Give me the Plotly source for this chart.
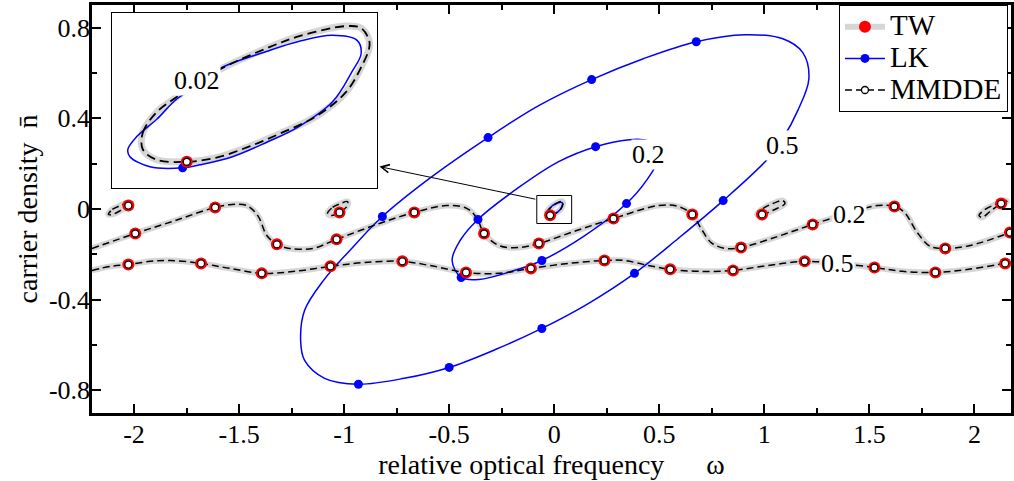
import plotly.graph_objects as go

# ---------------- data (omega, carrier density) ----------------
# MMDDE / TW branch at 0.2 (wavy upper curve)
W_MM02 = [-2.2, -1.994, -1.804, -1.614, -1.534, -1.463, -1.411, -1.368, -1.320, -1.259,
          -1.150, -1.036, -0.832, -0.666, -0.514, -0.415, -0.367, -0.334, -0.263, -0.168,
          -0.073, 0.107, 0.282, 0.495, 0.590, 0.657, 0.699, 0.747, 0.813, 0.889,
          1.064, 1.230, 1.396, 1.539, 1.619, 1.667, 1.728, 1.790, 1.861, 1.980, 2.169]
N_MM02 = [-0.174, -0.108, -0.051, 0.007, 0.020, 0.015, -0.029, -0.117, -0.156, -0.174,
          -0.174, -0.134, -0.064, -0.015, 0.015, 0.002, -0.042, -0.108, -0.161, -0.170,
          -0.152, -0.095, -0.042, 0.015, 0.011, -0.024, -0.086, -0.148, -0.174, -0.170,
          -0.121, -0.068, -0.020, 0.015, 0.011, -0.015, -0.104, -0.165, -0.174, -0.161, -0.104]
S_MM02 = [1, 3, 8, 11, 13, 17, 20, 22, 25, 29, 31, 34, 38, 40]

# MMDDE / TW branch at 0.5 (wavy lower curve)
W_MM05 = [-2.2, -2.112, -2.027, -1.923, -1.828, -1.681, -1.544, -1.392, -1.235, -1.065,
          -0.903, -0.723, -0.571, -0.420, -0.263, -0.111, 0.069, 0.239, 0.330, 0.448,
          0.552, 0.685, 0.851, 1.017, 1.192, 1.349, 1.524, 1.657, 1.814, 1.965, 2.146, 2.174]
N_MM05 = [-0.271, -0.253, -0.245, -0.231, -0.227, -0.240, -0.262, -0.284, -0.275, -0.253,
          -0.236, -0.231, -0.253, -0.280, -0.284, -0.262, -0.240, -0.227, -0.227, -0.249,
          -0.266, -0.275, -0.271, -0.249, -0.231, -0.240, -0.258, -0.275, -0.280, -0.267, -0.240, -0.236]
S_MM05 = [2, 5, 7, 9, 11, 13, 15, 17, 20, 22, 24, 26, 28, 30]

# small closed MMDDE / TW loops near n = 0
W_LOOP1 = [-2.122, -2.103, -2.065, -2.027, -2.013, -2.027, -2.065, -2.103, -2.122]
N_LOOP1 = [-0.024, -0.002, 0.015, 0.029, 0.024, 0.015, -0.007, -0.024, -0.024]
S_LOOP1 = [5]
W_LOOP2 = [-1.079, -1.055, -1.017, -0.984, -0.984, -1.022, -1.060, -1.079]
N_LOOP2 = [-0.020, 0.007, 0.024, 0.033, 0.015, -0.015, -0.029, -0.020]
S_LOOP2 = [5]
W_LOOP3 = [0.965, 0.993, 1.041, 1.088, 1.098, 1.050, 0.989, 0.965]
N_LOOP3 = [-0.024, 0.002, 0.024, 0.037, 0.024, -0.002, -0.024, -0.024]
S_LOOP3 = [6]
W_LOOP4 = [2.022, 2.051, 2.098, 2.141, 2.155, 2.127, 2.074, 2.037, 2.022]
N_LOOP4 = [-0.029, -0.002, 0.020, 0.037, 0.033, 0.024, -0.011, -0.037, -0.029]
S_LOOP4 = [5]

# MMDDE / TW loop at 0.02 (centre, enlarged in the inset)
W_MM002 = [-0.0345, -0.0345, -0.0298, -0.0230, -0.0152, -0.0051, 0.0074, 0.0186, 0.0345, 0.0396,
           0.0423, 0.0423, 0.0399, 0.0345, 0.0244, 0.0129, 0.0017, -0.0095, -0.0196, -0.0298, -0.0345]
N_MM002 = [-0.0224, -0.0146, -0.0053, 0.0016, 0.0090, 0.0164, 0.0238, 0.0294, 0.0340, 0.0331,
           0.0275, 0.0238, 0.0160, 0.0039, -0.0072, -0.0146, -0.0210, -0.0261, -0.0280, -0.0271, -0.0224]
S_MM002 = [18]

# LK orbits
W_LK05 = [0.804, 0.590, 0.382, 0.164, -0.059, -0.277, -0.500, -0.714, -0.932, -1.093,
          -1.188, -1.207, -1.188, -1.098, -0.974, -0.818, -0.595, -0.315, -0.074, 0.178,
          0.424, 0.676, 0.908, 1.088, 1.183, 1.212, 1.159, 1.088, 1.017, 0.804]
N_LK05 = [0.037, -0.130, -0.284, -0.416, -0.527, -0.619, -0.699, -0.747, -0.773, -0.747,
          -0.668, -0.580, -0.447, -0.315, -0.184, -0.033, 0.134, 0.315, 0.456, 0.571,
          0.663, 0.738, 0.769, 0.751, 0.690, 0.575, 0.434, 0.311, 0.222, 0.037]
S_LK05 = [0, 2, 4, 6, 8, 15, 17, 19, 21]

W_LK02 = [0.344, 0.439, 0.495, 0.472, 0.424, 0.358, 0.197, 0.021, -0.169, -0.363,
          -0.448, -0.486, -0.443, -0.358, -0.202, -0.059, 0.140, 0.344]
N_LK02 = [0.024, 0.126, 0.223, 0.289, 0.306, 0.306, 0.275, 0.209, 0.095, -0.046,
          -0.139, -0.227, -0.302, -0.311, -0.275, -0.227, -0.121, 0.024]
S_LK02 = [0, 6, 9, 12, 15]

W_LK002 = [0.0365, 0.0298, 0.0186, 0.0074, -0.0041, -0.0152, -0.0210, -0.0321, -0.0389, -0.0396,
           -0.0365, -0.0298, -0.0230, -0.0152, -0.0085, 0.0074, 0.0186, 0.0298, 0.0382, 0.0396, 0.0365]
N_LK002 = [0.0132, -0.0007, -0.0118, -0.0192, -0.0257, -0.0294, -0.0308, -0.0303, -0.0257, -0.0224,
           -0.0164, -0.0086, 0.0007, 0.0076, 0.0146, 0.0224, 0.0271, 0.0298, 0.0275, 0.0215, 0.0132]
S_LK002 = [6]

# axes ticks
X_TICKS = [-2, -1.5, -1, -0.5, 0, 0.5, 1, 1.5, 2]
X_TICKTEXT = ["-2", "-1.5", "-1", "-0.5", "0", "0.5", "1", "1.5", "2"]
X_MINOR = [-1.75, -1.25, -0.75, -0.25, 0.25, 0.75, 1.25, 1.75]
Y_TICKS = [0.8, 0.4, 0, -0.4, -0.8]
Y_TICKTEXT = ["0.8", "0.4", "0", "-0.4", "-0.8"]
Y_MINOR = [-0.6, -0.2, 0.2, 0.6]

# curve labels: (text, omega, n)
LABELS = [("0.5", 1.088, 0.280), ("0.2", 0.448, 0.240), ("0.2", 1.406, -0.024), ("0.5", 1.349, -0.240)]

# ---------------- styling ----------------
FONT = "Liberation Serif, Times New Roman, serif"
GRAY = "#d6d6d6"
RED = "#ff0000"
BLUE = "#0000ff"

MM_CURVES = [(W_MM02, N_MM02, S_MM02), (W_MM05, N_MM05, S_MM05),
             (W_LOOP1, N_LOOP1, S_LOOP1), (W_LOOP2, N_LOOP2, S_LOOP2),
             (W_LOOP3, N_LOOP3, S_LOOP3), (W_LOOP4, N_LOOP4, S_LOOP4),
             (W_MM002, N_MM002, S_MM002)]
LK_CURVES = [(W_LK05, N_LK05, S_LK05), (W_LK02, N_LK02, S_LK02), (W_LK002, N_LK002, S_LK002)]


def line(w, n, color, width, dash=None, xa="x", ya="y"):
    return go.Scatter(x=w, y=n, mode="lines", xaxis=xa, yaxis=ya, showlegend=False,
                      hoverinfo="skip",
                      line=dict(color=color, width=width, dash=dash, shape="spline", smoothing=1))


def samples(curves):
    xs, ys = [], []
    for w, n, s in curves:
        for i in s:
            xs += [w[i], None]
            ys += [n[i], None]
    return xs, ys


def big(text):
    return '<span style="font-size:29px">' + text + '</span>'


fig = go.Figure()

# lines: TW (grey band), LK (blue), MMDDE (dashed)
for w, n, s in MM_CURVES:
    fig.add_trace(line(w, n, GRAY, 6))
for w, n, s in LK_CURVES:
    fig.add_trace(line(w, n, BLUE, 1.5))
for w, n, s in MM_CURVES:
    fig.add_trace(line(w, n, "black", 1.5, dash="7px,4px"))

# sample markers (legend entries)
DASH = "7px,4px"
x, y = samples(LK_CURVES)
fig.add_trace(go.Scatter(x=x, y=y, mode="lines+markers", name=big("LK"), legendrank=2,
                         line=dict(color=BLUE, width=1.5), connectgaps=False,
                         marker=dict(color=BLUE, size=9), hoverinfo="skip"))
x, y = samples(MM_CURVES)
fig.add_trace(go.Scatter(x=x, y=y, mode="lines+markers", name=big("TW"), legendrank=1,
                         line=dict(color=GRAY, width=6), connectgaps=False,
                         marker=dict(color=RED, size=12), hoverinfo="skip"))
fig.add_trace(go.Scatter(x=x, y=y, mode="lines+markers", name=big("MMDDE"), legendrank=3,
                         line=dict(color="black", width=1.5, dash=DASH), connectgaps=False,
                         marker=dict(color="white", size=7, line=dict(color="black", width=1.3)),
                         hoverinfo="skip"))

# inset (enlarged 0.02 loop)
fig.add_trace(line(W_MM002, N_MM002, GRAY, 7, xa="x2", ya="y2"))
fig.add_trace(line(W_LK002, N_LK002, BLUE, 1.5, xa="x2", ya="y2"))
fig.add_trace(line(W_MM002, N_MM002, "black", 1.8, dash="9px,5px", xa="x2", ya="y2"))
x, y = samples([(W_LK002, N_LK002, S_LK002)])
fig.add_trace(go.Scatter(x=x, y=y, mode="markers", xaxis="x2", yaxis="y2", showlegend=False,
                         marker=dict(color=BLUE, size=9), hoverinfo="skip"))
x, y = samples([(W_MM002, N_MM002, S_MM002)])
fig.add_trace(go.Scatter(x=x, y=y, mode="markers", xaxis="x2", yaxis="y2", showlegend=False,
                         marker=dict(color=RED, size=12), hoverinfo="skip"))
fig.add_trace(go.Scatter(x=x, y=y, mode="markers", xaxis="x2", yaxis="y2", showlegend=False,
                         marker=dict(color="white", size=7, line=dict(color="black", width=1.3)),
                         hoverinfo="skip"))

annotations = []
for text, w, n in LABELS:
    annotations.append(dict(text=text, x=w, y=n, xref="x", yref="y", showarrow=False,
                            bgcolor="white", borderpad=0, font=dict(size=26)))
annotations.append(dict(text="0.02", x=-0.0162, y=0.0090, xref="x2", yref="y2", showarrow=False,
                        bgcolor="white", borderpad=0, font=dict(size=26)))
annotations.append(dict(text="", x=-0.832, y=0.187, xref="x", yref="y",
                        ax=-0.083, ay=0.042, axref="x", ayref="y", showarrow=True,
                        arrowhead=5, arrowsize=1.6, arrowwidth=1, arrowcolor="black", standoff=0))

shapes = [dict(type="rect", xref="x", yref="y", x0=-0.083, x1=0.083, y0=-0.064, y1=0.0595,
               line=dict(color="black", width=1))]

axis_common = dict(showgrid=False, zeroline=False, showline=True, linecolor="black",
                   ticks="inside", tickcolor="black", ticklabelposition="outside")

fig.update_layout(
    width=1014, height=481,
    margin=dict(l=92, r=0, t=5, b=68),
    paper_bgcolor="white", plot_bgcolor="white",
    font=dict(family=FONT, size=26, color="black"),
    showlegend=True,
    legend=dict(x=0.9967, xanchor="right", y=1, yanchor="top", bordercolor="black",
                borderwidth=1, bgcolor="white", font=dict(size=22), itemwidth=40,
                tracegroupgap=0),
    xaxis=dict(range=[-2.2, 2.174], tickvals=X_TICKS, ticktext=X_TICKTEXT, ticklen=9,
               tickwidth=2, linewidth=2.5, mirror="allticks", ticklabelstandoff=-4,
               minor=dict(tickvals=X_MINOR, ticks="inside", ticklen=5, tickwidth=1.5),
               title=dict(text="relative optical frequency" + "\u00a0" * 6 + "\u03c9",
                          font=dict(size=28), standoff=0),
               **axis_common),
    yaxis=dict(range=[-0.9, 0.9], tickvals=Y_TICKS, ticktext=Y_TICKTEXT, ticklen=9,
               tickwidth=2, linewidth=2.5, mirror="allticks", ticklabelstandoff=-6,
               minor=dict(tickvals=Y_MINOR, ticks="inside", ticklen=5, tickwidth=1.5),
               title=dict(text="carrier density\u00a0\u00a0n\u0304", font=dict(size=28), standoff=4),
               **axis_common),
    xaxis2=dict(domain=[0.0217, 0.3102], range=[-0.045, 0.045], anchor="y2", showgrid=False,
                zeroline=False, showline=True, mirror=True, linecolor="black", linewidth=1.3,
                ticks="", showticklabels=False),
    yaxis2=dict(domain=[0.5515, 0.9804], range=[-0.04, 0.04], anchor="x2", showgrid=False,
                zeroline=False, showline=True, mirror=True, linecolor="black", linewidth=1.3,
                ticks="", showticklabels=False),
    annotations=annotations,
    shapes=shapes,
)

fig.write_html("out.html")
